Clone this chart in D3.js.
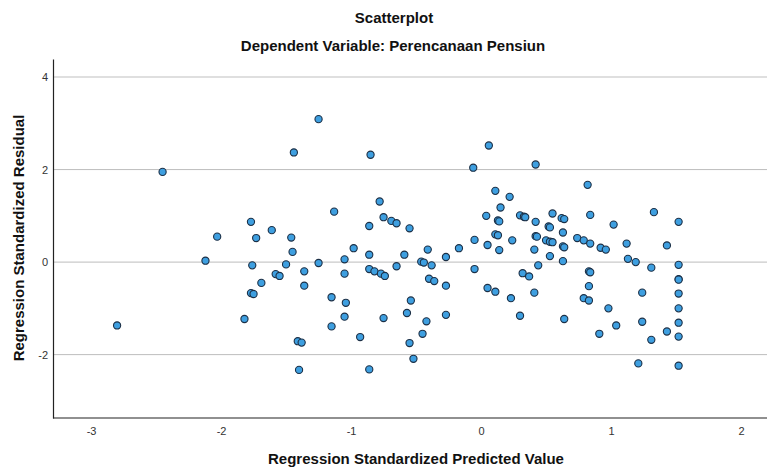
<!DOCTYPE html>
<html>
<head>
<meta charset="utf-8">
<script src="https://cdn.jsdelivr.net/npm/d3@7"></script>
<style>
  body { margin: 0; background: #fff; }
  text { font-family: "Liberation Sans", Arial, sans-serif; }
</style>
</head>
<body>
<div id="chart"></div>
<script>
// values
const predicted = [
  -2.80, -2.45, -2.12, -2.03, -1.82, -1.77, -1.75, -1.77, -1.76, -1.73,
  -1.69, -1.61, -1.58, -1.55, -1.50, -1.46, -1.45, -1.44, -1.41, -1.38,
  -1.40, -1.36, -1.36, -1.25, -1.25, -1.15, -1.15, -1.13, -1.05, -1.05,
  -1.04, -1.05, -0.98, -0.93, -0.86, -0.86, -0.86, -0.86, -0.85, -0.82,
  -0.78, -0.77, -0.74, -0.75, -0.75, -0.69, -0.65, -0.65, -0.59, -0.55,
  -0.54, -0.57, -0.55, -0.52, -0.46, -0.44, -0.41, -0.38, -0.40, -0.36,
  -0.42, -0.45, -0.27, -0.27, -0.27, -0.17, -0.06, -0.05, -0.05, 0.04,
  0.05, 0.05, 0.06, 0.11, 0.11, 0.13, 0.11, 0.13, 0.14, 0.14,
  0.15, 0.22, 0.24, 0.23, 0.30, 0.33, 0.34, 0.30, 0.32, 0.37,
  0.41, 0.41, 0.42, 0.42, 0.42, 0.43, 0.44, 0.50, 0.53, 0.55,
  0.52, 0.53, 0.53, 0.55, 0.62, 0.64, 0.63, 0.63, 0.64, 0.63,
  0.64, 0.74, 0.79, 0.84, 0.82, 0.84, 0.79, 0.83, 0.83, 0.84,
  0.83, 0.91, 0.92, 0.96, 0.98, 1.02, 1.04, 1.12, 1.13, 1.19,
  1.21, 1.24, 1.24, 1.31, 1.31, 1.33, 1.43, 1.43, 1.52, 1.52,
  1.52, 1.52, 1.52, 1.52, 1.52, 1.52, 1.52
];
const residual = [
  -1.37, 1.95, 0.03, 0.55, -1.23, -0.67, -0.69, 0.87, -0.07, 0.52,
  -0.45, 0.69, -0.26, -0.30, -0.05, 0.53, 0.22, 2.37, -1.71, -1.74,
  -2.33, -0.20, -0.51, 3.09, -0.02, -0.76, -1.39, 1.09, 0.06, -0.25,
  -0.88, -1.18, 0.30, -1.62, 0.78, 0.16, -0.15, -2.32, 2.32, -0.20,
  1.31, -0.25, -0.30, 0.97, -1.21, 0.89, 0.84, -0.09, 0.16, 0.73,
  -0.83, -1.10, -1.75, -2.09, 0.01, -0.01, 0.27, -0.07, -0.36, -0.41,
  -1.28, -1.55, 0.11, -0.51, -1.14, 0.30, 2.04, 0.48, -0.15, 1.00,
  0.37, -0.56, 2.52, 1.54, 0.60, 0.58, -0.64, 0.90, 0.88, 0.26,
  1.18, 1.41, 0.47, -0.78, 1.01, 0.98, 0.97, -1.16, -0.24, -0.31,
  0.27, -0.66, 2.11, 0.87, 0.56, 0.55, -0.07, 0.47, 0.44, 0.43,
  0.77, 0.75, 0.13, 1.05, 0.95, 0.93, 0.64, 0.34, 0.32, 0.02,
  -1.23, 0.52, 0.47, 0.40, 1.67, 1.02, -0.78, -0.83, -0.20, -0.22,
  -0.52, -1.55, 0.31, 0.27, -1.00, 0.81, -1.37, 0.40, 0.07, 0.00,
  -2.19, -0.66, -1.29, -0.12, -1.68, 1.08, 0.36, -1.50, 0.87, -0.06,
  -0.37, -0.38, -0.68, -1.00, -1.31, -1.61, -2.24
];
const xTicks = [-3, -2, -1, 0, 1, 2];
const yTicks = [-2, 0, 2, 4];

const width = 767, height = 468;
const margin = {top: 59, right: 0, bottom: 50, left: 53};

const svg = d3.select('#chart').append('svg')
  .attr('width', width)
  .attr('height', height);

const x = d3.scaleLinear()
  .domain([-3.293, 2.2])
  .range([margin.left, width - margin.right]);
const y = d3.scaleLinear()
  .domain([-3.37, 4.39])
  .range([height - margin.bottom, margin.top]);

// SPSS writes a plain hyphen, not the unicode minus
const fmt = d => String(d);

// titles
svg.append('text')
  .attr('x', 394).attr('y', 23)
  .attr('text-anchor', 'middle')
  .attr('font-size', 15).attr('font-weight', 'bold')
  .attr('fill', '#111')
  .text('Scatterplot');
svg.append('text')
  .attr('x', 393).attr('y', 51)
  .attr('text-anchor', 'middle')
  .attr('font-size', 15).attr('font-weight', 'bold')
  .attr('fill', '#111')
  .text('Dependent Variable: Perencanaan Pensiun');

// grid lines
svg.append('g')
  .selectAll('line')
  .data(yTicks)
  .join('line')
  .attr('x1', margin.left).attr('x2', width - margin.right)
  .attr('y1', d => y(d)).attr('y2', d => y(d))
  .attr('stroke', d => d === 4 ? '#d4d4d4' : '#bdbdbd')
  .attr('stroke-width', d => d === 4 ? 1.6 : 1);

// axes
const xAxis = svg.append('g')
  .attr('transform', `translate(0,${height - margin.bottom})`)
  .call(d3.axisBottom(x).tickValues(xTicks).tickFormat(fmt).tickSize(0).tickPadding(9));
xAxis.select('.domain').attr('stroke', '#222').attr('stroke-width', 1.2)
  .attr('d', `M${margin.left},0H${width}`);
xAxis.selectAll('text').attr('font-size', 11).attr('fill', '#333')
  .style('font-family', '"Liberation Sans", Arial, sans-serif');

const yAxis = svg.append('g')
  .attr('transform', `translate(${margin.left},0)`)
  .call(d3.axisLeft(y).tickValues(yTicks).tickFormat(fmt).tickSize(0).tickPadding(5));
yAxis.select('.domain').attr('stroke', '#222').attr('stroke-width', 1.2);
yAxis.selectAll('text').attr('font-size', 11).attr('fill', '#333')
  .style('font-family', '"Liberation Sans", Arial, sans-serif');

// axis titles
svg.append('text')
  .attr('x', 416).attr('y', 464)
  .attr('text-anchor', 'middle')
  .attr('font-size', 15).attr('font-weight', 'bold')
  .attr('fill', '#111')
  .text('Regression Standardized Predicted Value');
svg.append('text')
  .attr('transform', 'translate(24,238) rotate(-90)')
  .attr('text-anchor', 'middle')
  .attr('font-size', 15).attr('font-weight', 'bold')
  .attr('fill', '#111')
  .text('Regression Standardized Residual');

// points
svg.append('g')
  .selectAll('circle')
  .data(predicted.map((p, i) => ({p, r: residual[i]})))
  .join('circle')
  .attr('cx', d => x(d.p))
  .attr('cy', d => y(d.r))
  .attr('r', 3.6)
  .attr('fill', '#3e9fe0')
  .attr('stroke', '#1c2f45')
  .attr('stroke-width', 1.1);
</script>
</body>
</html>
